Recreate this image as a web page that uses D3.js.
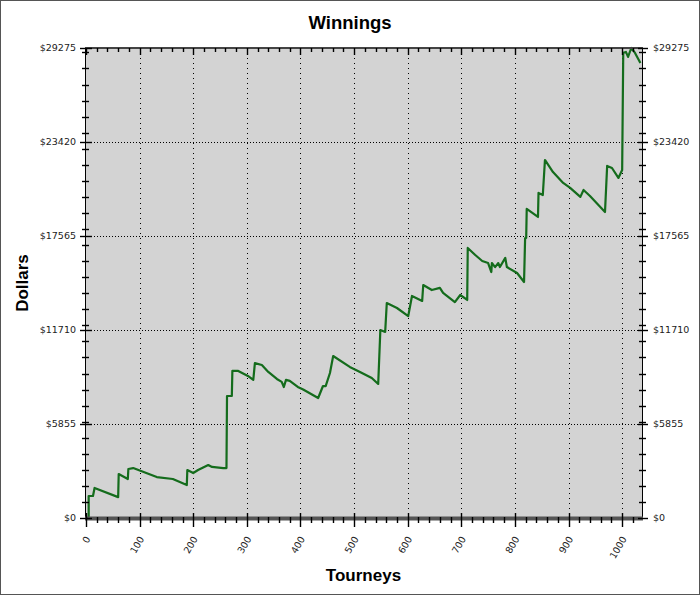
<!DOCTYPE html>
<html>
<head>
<meta charset="utf-8">
<script src="https://cdn.jsdelivr.net/npm/d3@7"></script>
<style>
  body { margin: 0; background: #fff; }
  text { font-family: "DejaVu Sans", sans-serif; }
</style>
</head>
<body>
<div id="chart"></div>
<script>
// chart size
var width = 700,
    height = 595;

var margin = {top: 48, right: 58, bottom: 77, left: 85};

// data
var tourneys = [0, 5, 5, 13, 16, 60, 61, 78, 79, 88, 132, 162, 188, 189, 200, 209, 228, 235, 256, 262,
  263, 272, 273, 284, 302, 312, 315, 328, 340, 356, 365, 369, 373, 380, 395, 405, 433, 442, 447, 455,
  461, 492, 511, 533, 545, 549, 558, 561, 580, 601, 608, 627, 629, 645, 660, 666, 688, 698, 711, 712,
  726, 739, 750, 756, 757, 763, 769, 772, 782, 785, 804, 817, 819, 821, 822, 843, 844, 852, 856, 871,
  890, 903, 922, 928, 940, 968, 972, 981, 993, 1000, 1002, 1007, 1011, 1017, 1024, 1034];
var dollars = [0, 0, 1370, 1370, 1870, 1300, 2740, 2430, 3050, 3110, 2550, 2430, 2050, 2990, 2800, 2990, 3300, 3180, 3110, 3110,
  7600, 7600, 9160, 9160, 8850, 8600, 9650, 9530, 9100, 8660, 8480, 8160, 8600, 8540, 8160, 8000, 7475, 8220, 8220, 9030,
  10090, 9410, 9100, 8720, 8350, 11710, 11590, 13390, 13080, 12580, 13830, 13520, 14510, 14200, 14330, 14020, 13450, 13890, 13580, 16820,
  16380, 16010, 15880, 15320, 15880, 15630, 15880, 15630, 16200, 15630, 15260, 14700, 17440, 17440, 19250, 18750, 20250, 20120, 22300, 21550,
  20870, 20560, 20000, 20430, 20060, 19060, 21930, 21800, 21180, 21680, 28970, 29030, 28720, 29275, 28970, 28340];

var yTicks = [0, 5855, 11710, 17565, 23420, 29275];
var xTicks = [0, 100, 200, 300, 400, 500, 600, 700, 800, 900, 1000];
var xMax = 1037;

var yMinor = d3.range(1000, 29275, 1000);
var xMinor = d3.range(20, xMax, 20).filter(function(d) { return d % 100 != 0; });

var svg = d3.select("#chart").append("svg")
  .attr("width", width)
  .attr("height", height);

// outer frame
svg.append("rect")
  .attr("x", 0.5).attr("y", 0.5)
  .attr("width", width - 1).attr("height", height - 1)
  .attr("fill", "#fff")
  .attr("stroke", "#555");

var x = d3.scaleLinear()
  .domain([0, xMax])
  .range([margin.left + 1, width - margin.right]);

var y = d3.scaleLinear()
  .domain([0, 29275])
  .range([height - margin.bottom, margin.top]);

var x0 = margin.left, x1 = width - margin.right,
    y0 = height - margin.bottom, y1 = margin.top;

// plot background
svg.append("rect")
  .attr("x", x0).attr("y", y1)
  .attr("width", x1 - x0).attr("height", y0 - y1)
  .attr("fill", "#d3d3d3");

// grid
svg.selectAll(".vgrid")
  .data(xTicks.filter(function(d) { return d > 0; }))
  .enter().append("line")
  .attr("x1", function(d) { return Math.round(x(d)) + 0.5; })
  .attr("x2", function(d) { return Math.round(x(d)) + 0.5; })
  .attr("y1", y1).attr("y2", y0)
  .attr("stroke", "#000")
  .attr("stroke-width", 1)
  .attr("stroke-dasharray", "1,4");

svg.selectAll(".hgrid")
  .data(yTicks.filter(function(d) { return d > 0 && d < 29275; }))
  .enter().append("line")
  .attr("x1", x0).attr("x2", x1)
  .attr("y1", function(d) { return Math.round(y(d)) + 0.5; })
  .attr("y2", function(d) { return Math.round(y(d)) + 0.5; })
  .attr("stroke", "#000")
  .attr("stroke-width", 1)
  .attr("stroke-dasharray", "1,2");

// the line
var line = d3.line()
  .x(function(d, i) { return x(tourneys[i]); })
  .y(function(d) { return y(d); });

svg.append("path")
  .datum(dollars)
  .attr("d", line)
  .attr("fill", "none")
  .attr("stroke", "#146c1c")
  .attr("stroke-width", 2.2)
  .attr("stroke-linejoin", "round");

// axes frame
svg.append("line").attr("x1", x0 + 0.5).attr("x2", x0 + 0.5).attr("y1", y1).attr("y2", y0)
  .attr("stroke", "#000");
svg.append("line").attr("x1", x1 + 0.5).attr("x2", x1 + 0.5).attr("y1", y1).attr("y2", y0)
  .attr("stroke", "#000");
svg.append("line").attr("x1", x0).attr("x2", x1 + 1).attr("y1", y1).attr("y2", y1)
  .attr("stroke", "#444").attr("stroke-width", 2);
svg.append("line").attr("x1", x0).attr("x2", x1 + 1).attr("y1", y0 + 0.5).attr("y2", y0 + 0.5)
  .attr("stroke", "#555").attr("stroke-width", 4);

// y ticks left and right
function yTickLines(cls, vals, xa, xb) {
  svg.selectAll("." + cls)
    .data(vals)
    .enter().append("line")
    .attr("x1", xa).attr("x2", xb)
    .attr("y1", function(d) { return Math.round(y(d)) + 0.5; })
    .attr("y2", function(d) { return Math.round(y(d)) + 0.5; })
    .attr("stroke", "#000")
    .attr("stroke-width", 1.4);
}
yTickLines("ymajL", yTicks, x0 - 5, x0 + 7);
yTickLines("yminL", yMinor, x0 - 3, x0 + 4);
yTickLines("ymajR", yTicks, x1 - 4, x1 + 6);
yTickLines("yminR", yMinor, x1 - 3, x1 + 4);

// x ticks bottom and top
function xTickLines(cls, vals, ya, yb) {
  svg.selectAll("." + cls)
    .data(vals)
    .enter().append("line")
    .attr("x1", function(d) { return Math.round(x(d)) + 0.5; })
    .attr("x2", function(d) { return Math.round(x(d)) + 0.5; })
    .attr("y1", ya).attr("y2", yb)
    .attr("stroke", "#000")
    .attr("stroke-width", 1.4);
}
xTickLines("xmajB", xTicks, y0 - 5, y0 + 9);
xTickLines("xminB", xMinor, y0 - 1, y0 + 5);
xTickLines("xmajT", xTicks, y1, y1 + 7);
xTickLines("xminT", xMinor, y1, y1 + 4);

// tick labels
var fmt = function(d) { return "$" + d; };

svg.selectAll(".ylabL")
  .data(yTicks)
  .enter().append("text")
  .attr("x", x0 - 9)
  .attr("y", function(d) { return y(d); })
  .attr("dy", "0.35em")
  .attr("text-anchor", "end")
  .style("font-size", "9.5px")
  .attr("fill", "#222")
  .text(fmt);

svg.selectAll(".ylabR")
  .data(yTicks)
  .enter().append("text")
  .attr("x", x1 + 11)
  .attr("y", function(d) { return y(d); })
  .attr("dy", "0.35em")
  .attr("text-anchor", "start")
  .style("font-size", "9.5px")
  .attr("fill", "#222")
  .text(fmt);

svg.selectAll(".xlab")
  .data(xTicks)
  .enter().append("text")
  .attr("transform", function(d) { return "translate(" + (x(d) + 2) + "," + (y0 + 19) + ") rotate(-60)"; })
  .attr("dy", "0.35em")
  .attr("text-anchor", "end")
  .style("font-size", "9.5px")
  .attr("fill", "#222")
  .text(function(d) { return d; });

// titles
svg.append("text")
  .attr("x", 350).attr("y", 29)
  .attr("text-anchor", "middle")
  .style("font-family", "'Liberation Sans', Arial, sans-serif")
  .style("font-size", "18.5px")
  .style("font-weight", "bold")
  .text("Winnings");

svg.append("text")
  .attr("x", (x0 + x1) / 2).attr("y", 581)
  .attr("text-anchor", "middle")
  .style("font-family", "'Liberation Sans', Arial, sans-serif")
  .style("font-size", "17px")
  .style("font-weight", "bold")
  .text("Tourneys");

svg.append("text")
  .attr("transform", "translate(28," + ((y0 + y1) / 2) + ") rotate(-90)")
  .attr("text-anchor", "middle")
  .style("font-family", "'Liberation Sans', Arial, sans-serif")
  .style("font-size", "17px")
  .style("font-weight", "bold")
  .text("Dollars");
</script>
</body>
</html>
